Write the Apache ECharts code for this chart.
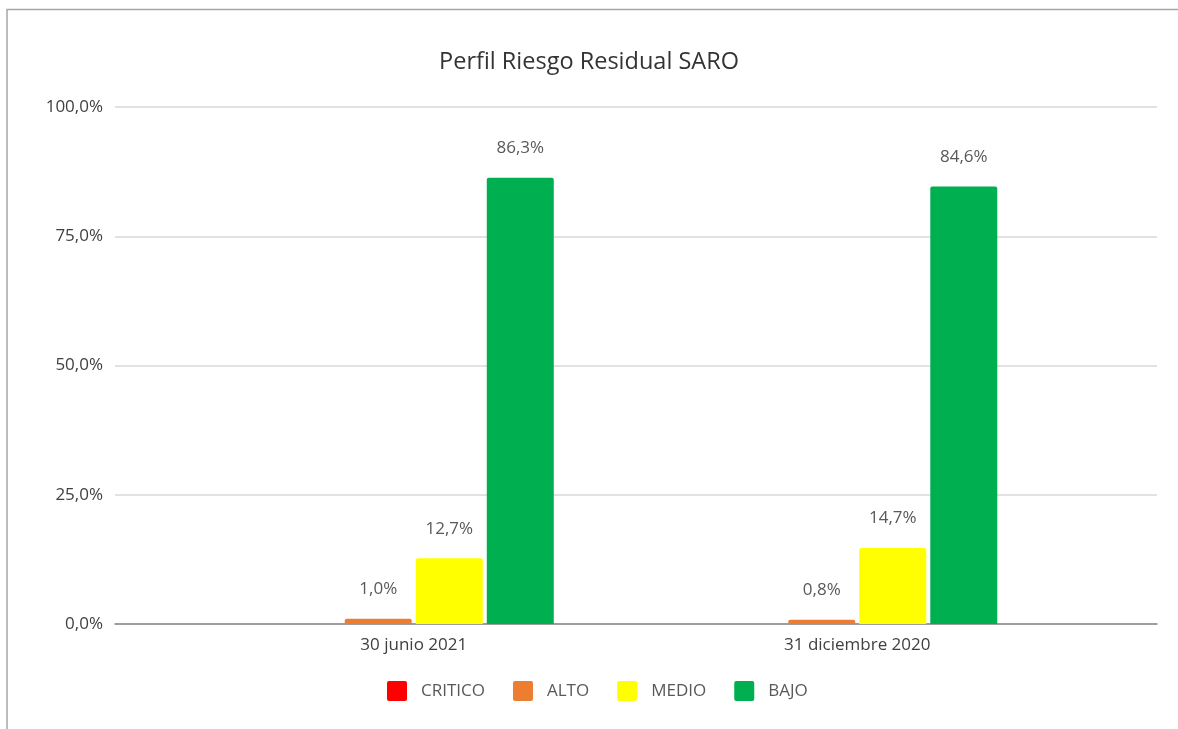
<!DOCTYPE html>
<html>
<head>
<meta charset="utf-8">
<script src="https://cdn.jsdelivr.net/npm/echarts@6/dist/echarts.min.js"></script>
<style>
html,body{margin:0;padding:0;background:#fff;}
#chart{width:1178px;height:729px;}
</style>
</head>
<body>
<div id="chart"></div>
<script>
const categories = ['30 junio 2021', '31 diciembre 2020'];
const seriesNames = ['CRITICO', 'ALTO', 'MEDIO', 'BAJO'];
const critico = [0, 0];
const alto = [1.0, 0.8];
const medio = [12.7, 14.7];
const bajo = [86.3, 84.6];
const colors = ['#FF0000', '#ED7D31', '#FFFF00', '#00B050'];
const yTicks = { min: 0, max: 100, interval: 25 };

const fmt = v => v.toFixed(1).replace('.', ',') + '%';
const FONT = 'Open Sans';
const chart = echarts.init(document.getElementById('chart'), null, { renderer: 'canvas' });
const values = [critico, alto, medio, bajo];

chart.setOption({
  animation: false,
  textStyle: { fontFamily: FONT },
  title: {
    text: 'Perfil Riesgo Residual SARO',
    left: 'center', top: 45,
    textStyle: { fontFamily: FONT, fontSize: 23.5, fontWeight: 'normal', color: '#333333' }
  },
  legend: {
    bottom: 23, left: 382,
    itemWidth: 20, itemHeight: 20, itemGap: 28,
    icon: 'path://M2,0H18A2,2 0 0 1 20,2V18A2,2 0 0 1 18,20H2A2,2 0 0 1 0,18V2A2,2 0 0 1 2,0Z',
    textStyle: { fontFamily: FONT, fontSize: 17, color: '#595959', padding: [0, 0, 0, 9] },
    data: seriesNames
  },
  graphic: [{
    type: 'polyline',
    shape: { points: [[7, 729], [7, 9.5], [1178, 9.5]] },
    style: { stroke: '#a6a6a6', lineWidth: 1.5, fill: null }
  }],
  grid: [
    { left: 115, right: 21, top: 107, bottom: 105 },
    { left: 192, right: 99, top: 107, bottom: 105 }
  ],
  xAxis: [
    { type: 'value', gridIndex: 0, min: 0, max: 1,
      axisLine: { show: true, lineStyle: { color: '#868686', width: 1.5 } },
      axisTick: { show: false }, axisLabel: { show: false }, splitLine: { show: false } },
    { type: 'category', gridIndex: 1, data: categories,
      axisLine: { show: false }, axisTick: { show: false },
      axisLabel: { fontFamily: FONT, fontSize: 17, color: '#404040', margin: 13 } }
  ],
  yAxis: [
    { type: 'value', gridIndex: 0, min: yTicks.min, max: yTicks.max, interval: yTicks.interval,
      axisLine: { show: false }, axisTick: { show: false },
      axisLabel: { fontFamily: FONT, fontSize: 17, color: '#404040', margin: 12, formatter: v => fmt(v) },
      splitLine: { lineStyle: { color: '#d9d9d9', width: 1.5 } } },
    { type: 'value', gridIndex: 1, min: yTicks.min, max: yTicks.max, interval: yTicks.interval,
      show: false, splitLine: { show: false } }
  ],
  series: seriesNames.map((name, i) => ({
    name, type: 'bar', xAxisIndex: 1, yAxisIndex: 1,
    data: values[i],
    barWidth: 67, barGap: '6%', barCategoryGap: '37%',
    itemStyle: { color: colors[i], borderRadius: [2, 2, 0, 0] },
    label: {
      show: true, position: 'top', distance: 21,
      fontFamily: FONT, fontSize: 17, color: '#595959',
      formatter: p => p.value === 0 ? '' : fmt(p.value)
    }
  }))
});
</script>
</body>
</html>
